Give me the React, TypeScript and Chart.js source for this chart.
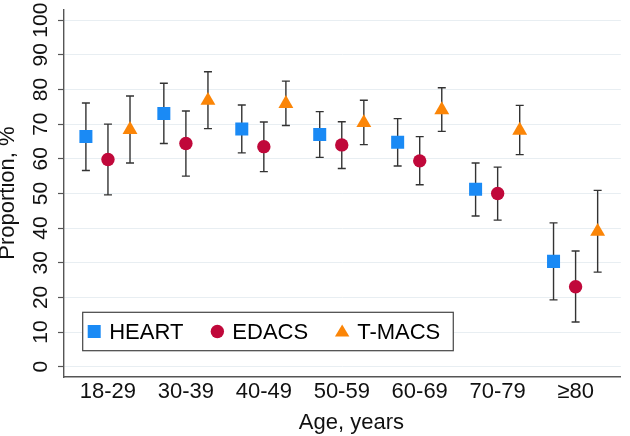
import React, { useEffect, useRef } from 'react';
import { Chart, registerables } from 'chart.js';

Chart.register(...registerables);

// age groups on the x axis
const ageGroups = ['18-29', '30-39', '40-49', '50-59', '60-69', '70-79', '≥80'];
const yTicks = [0, 10, 20, 30, 40, 50, 60, 70, 80, 90, 100];

// proportion (%) with 95% CI
const heartEst = [66.4, 73.1, 68.6, 67.0, 64.8, 51.2, 30.4];
const heartLow = [56.6, 64.4, 61.7, 60.4, 57.9, 43.5, 19.3];
const heartHigh = [76.1, 81.8, 75.5, 73.6, 71.6, 58.8, 41.5];

const edacsEst = [59.8, 64.4, 63.5, 64.0, 59.4, 50.0, 23.1];
const edacsLow = [49.6, 55.0, 56.3, 57.2, 52.5, 42.3, 12.9];
const edacsHigh = [70.0, 73.8, 70.6, 70.7, 66.4, 57.6, 33.4];

const tmacsEst = [68.4, 76.8, 75.9, 70.4, 74.1, 68.2, 39.0];
const tmacsLow = [58.8, 68.7, 69.6, 64.1, 67.9, 61.2, 27.3];
const tmacsHigh = [78.1, 85.1, 82.4, 76.9, 80.5, 75.4, 50.9];

const xTitle = 'Age, years';

const FONT = "'Liberation Sans', Arial, Helvetica, sans-serif";
const BLUE = '#1a8af5';
const RED = '#c0083a';
const ORANGE = '#fb8507';

// whiskers for the confidence intervals
const errorBars = {
  id: 'errorBars',
  beforeDatasetsDraw(chart: any) {
    const ctx = chart.ctx;
    const y = chart.scales.y;
    ctx.save();
    ctx.strokeStyle = '#333';
    ctx.lineWidth = 1.4;
    chart.data.datasets.forEach((ds: any, di: number) => {
      const meta = chart.getDatasetMeta(di);
      meta.data.forEach((pt: any, i: number) => {
        const top = y.getPixelForValue(ds.high[i]);
        const bot = y.getPixelForValue(ds.low[i]);
        ctx.beginPath();
        ctx.moveTo(pt.x, top);
        ctx.lineTo(pt.x, bot);
        ctx.moveTo(pt.x - 4, top);
        ctx.lineTo(pt.x + 4, top);
        ctx.moveTo(pt.x - 4, bot);
        ctx.lineTo(pt.x + 4, bot);
        ctx.stroke();
      });
    });
    ctx.restore();
  },
};

// vertical y tick labels (Chart.js does not rotate labels on a vertical axis)
// and the x axis title, which sits a bit right of the plot centre
const axisText = {
  id: 'axisText',
  afterDraw(chart: any) {
    const ctx = chart.ctx;
    const s = chart.scales.y;
    ctx.save();
    ctx.font = `21px ${FONT}`;
    ctx.fillStyle = '#111';
    ctx.textAlign = 'center';
    ctx.textBaseline = 'middle';
    s.ticks.forEach((t: any) => {
      ctx.save();
      ctx.translate(s.right - 22.5, s.getPixelForValue(t.value));
      ctx.rotate(-Math.PI / 2);
      ctx.fillText(String(t.value), 0, 0);
      ctx.restore();
    });
    const area = chart.chartArea;
    ctx.font = `22px ${FONT}`;
    ctx.fillText(xTitle, (area.left + area.right) / 2 + 9, chart.height - 13.5);
    ctx.restore();
  },
};

function drawMarker(ctx: CanvasRenderingContext2D, style: string, x: number, y: number) {
  ctx.beginPath();
  if (style === 'rect') {
    ctx.rect(x - 6.5, y - 6.5, 13, 13);
  } else if (style === 'circle') {
    ctx.arc(x, y, 6.7, 0, Math.PI * 2);
  } else {
    ctx.moveTo(x, y - 7);
    ctx.lineTo(x + 7.2, y + 5);
    ctx.lineTo(x - 7.2, y + 5);
    ctx.closePath();
  }
  ctx.fill();
}

// boxed legend inside the plot area, bottom left
const boxLegend = {
  id: 'boxLegend',
  afterDraw(chart: any) {
    const ctx = chart.ctx;
    const area = chart.chartArea;
    const left = area.left + 18.7;
    const top = area.bottom - 64.7;
    const h = 38.4;
    const cy = top + h / 2;
    ctx.save();
    ctx.font = `22px ${FONT}`;
    let cursor = left + 4.5;
    const items = chart.data.datasets.map((ds: any) => {
      const start = cursor;
      const w = ctx.measureText(ds.label).width;
      cursor += 15 + 7 + w + 27;
      return { ds, start, w };
    });
    const right = cursor - 27 + 13;
    ctx.fillStyle = '#fff';
    ctx.fillRect(left, top, right - left, h);
    ctx.strokeStyle = '#444';
    ctx.lineWidth = 1.2;
    ctx.strokeRect(left, top, right - left, h);
    items.forEach(({ ds, start }: any) => {
      ctx.fillStyle = ds.pointBackgroundColor;
      drawMarker(ctx, ds.pointStyle, start + 7, cy);
      ctx.fillStyle = '#000';
      ctx.textAlign = 'left';
      ctx.textBaseline = 'middle';
      ctx.fillText(ds.label, start + 22, cy + 1);
    });
    ctx.restore();
  },
};

const offsets = [-0.283, 0, 0.283];

export default function App() {
  const canvasRef = useRef<HTMLCanvasElement>(null);
  const chartRef = useRef<Chart | null>(null);

  useEffect(() => {
    document.body.style.margin = '0';
    if (!canvasRef.current) return;
    if (chartRef.current) chartRef.current.destroy();

    const series = [
      { label: 'HEART', est: heartEst, low: heartLow, high: heartHigh, color: BLUE, style: 'rect', r: 9.2 },
      { label: 'EDACS', est: edacsEst, low: edacsLow, high: edacsHigh, color: RED, style: 'circle', r: 6.7 },
      { label: 'T-MACS', est: tmacsEst, low: tmacsLow, high: tmacsHigh, color: ORANGE, style: 'triangle', r: 8.6 },
    ];

    chartRef.current = new Chart(canvasRef.current, {
      type: 'scatter',
      data: {
        datasets: series.map((s, si) => ({
          label: s.label,
          data: s.est.map((v, i) => ({ x: i + offsets[si], y: v })),
          low: s.low,
          high: s.high,
          pointStyle: s.style,
          pointRadius: s.r,
          pointHoverRadius: s.r,
          pointBackgroundColor: s.color,
          pointBorderColor: s.color,
          pointBorderWidth: 0,
        })) as any,
      },
      options: {
        animation: false,
        responsive: true,
        maintainAspectRatio: false,
        events: [],
        layout: { padding: { top: 8, left: 0, right: 0, bottom: 0 } },
        plugins: {
          legend: { display: false },
          tooltip: { enabled: false },
        },
        scales: {
          x: {
            type: 'linear',
            min: -0.564,
            max: 6.58,
            afterBuildTicks: (scale: any) => {
              scale.ticks = ageGroups.map((_, i) => ({ value: i }));
            },
            afterFit: (scale: any) => {
              scale.height = 59;
            },
            grid: { display: false, drawTicks: false },
            border: { display: true, color: '#555', width: 1.4 },
            ticks: {
              color: '#111',
              padding: 2,
              maxRotation: 0,
              autoSkip: false,
              font: { family: FONT, size: 22 },
              callback: (v: any) => ageGroups[v],
            },
          },
          y: {
            type: 'linear',
            min: -2.96,
            max: 103.16,
            afterBuildTicks: (scale: any) => {
              scale.ticks = yTicks.map((v) => ({ value: v }));
            },
            afterFit: (scale: any) => {
              scale.width = 64;
            },
            grid: {
              color: '#e8eef2',
              lineWidth: 1,
              drawTicks: true,
              tickLength: 6,
              tickColor: '#555',
              tickWidth: 1.2,
            },
            border: { display: true, color: '#555', width: 1.4 },
            ticks: { display: false },
            title: {
              display: true,
              text: 'Proportion, %',
              color: '#111',
              padding: 0,
              font: { family: FONT, size: 22, lineHeight: 0.73 },
            },
          },
        },
      },
      plugins: [errorBars, axisText, boxLegend],
    });

    return () => {
      if (chartRef.current) {
        chartRef.current.destroy();
        chartRef.current = null;
      }
    };
  }, []);

  return (
    <div style={{ position: 'relative', width: 630, height: 436 }}>
      <canvas ref={canvasRef} />
    </div>
  );
}
